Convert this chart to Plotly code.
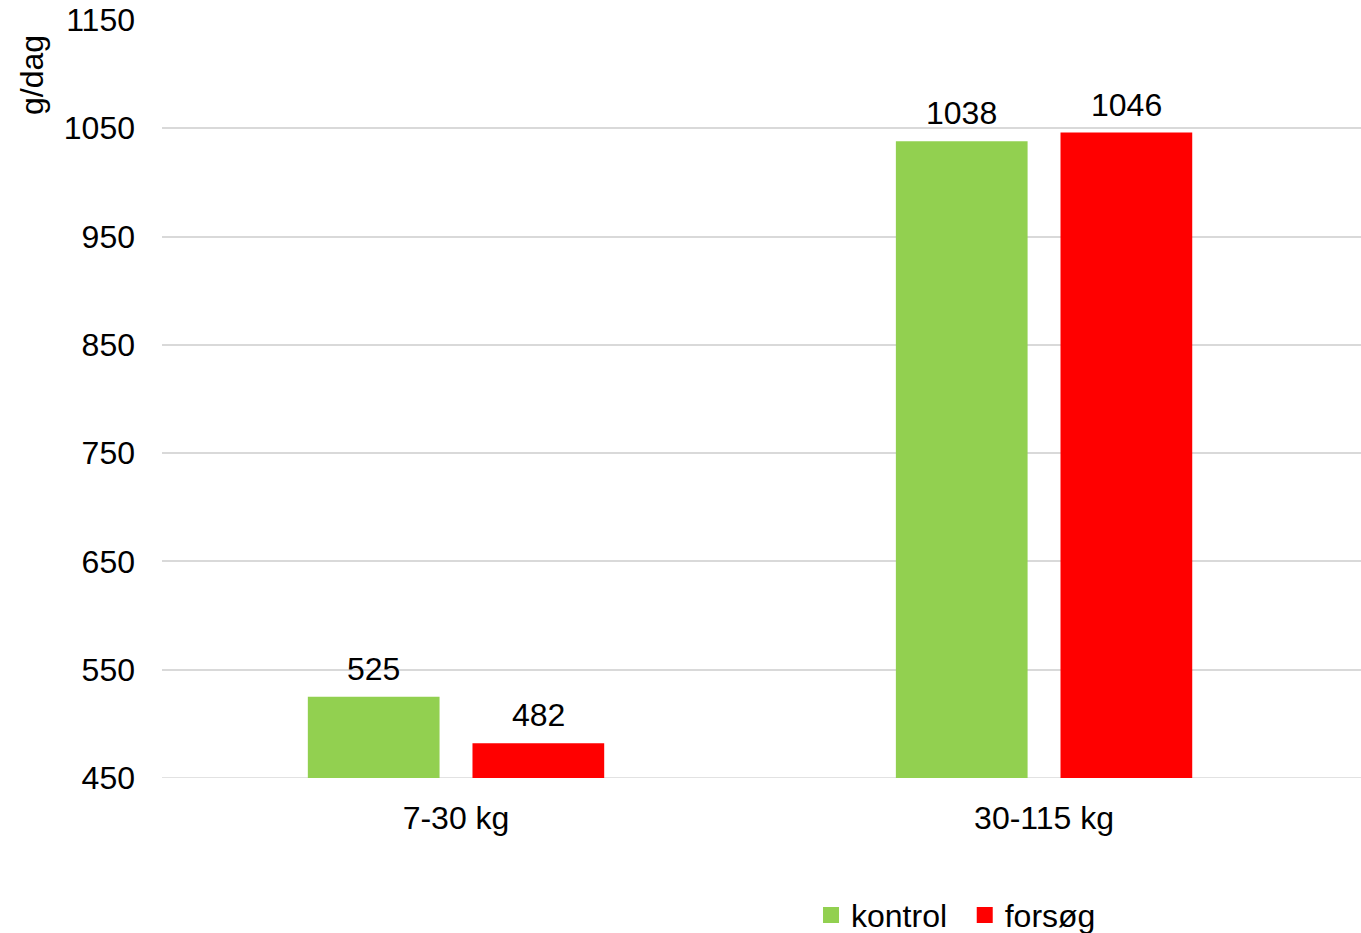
import plotly.graph_objects as go

# Daily gain (g/dag) per weight interval
categories = ["7-30 kg", "30-115 kg"]
kontrol = [525, 1038]
forsoeg = [482, 1046]
series_names = ["kontrol", "forsøg"]
colors = ["#92D050", "#FF0000"]
y_ticks = [450, 550, 650, 750, 850, 950, 1050, 1150]

FONT = "Liberation Sans, Arial, sans-serif"
FS = 32
BARGAP = 0.44
BARGROUPGAP = 0.2

fig = go.Figure()
legend_ids = ["legend", "legend2"]
series = [kontrol, forsoeg]
for name, vals, col, lg in zip(series_names, series, colors, legend_ids):
    fig.add_trace(go.Bar(
        x=categories, y=vals, name=name, marker=dict(color=col, line=dict(width=0)),
        showlegend=False,
    ))
    # legend entry with a square swatch
    fig.add_trace(go.Scatter(
        x=[None], y=[None], mode="markers", name=name, legend=lg,
        marker=dict(symbol="square", size=18, color=col),
    ))

# value labels above each bar, centred on the bar's slot within its group
slot = (1 - BARGAP) / len(series)
annotations = []
for s_idx, vals in enumerate(series):
    offset = -(1 - BARGAP) / 2 + slot * (s_idx + 0.5)
    for c_idx, v in enumerate(vals):
        annotations.append(dict(
            x=c_idx + offset, y=v, xref="x", yref="y", text=str(v),
            showarrow=False, yanchor="middle", yshift=28,
            font=dict(family=FONT, size=FS, color="black")))

annotations.append(dict(text="g/dag", textangle=-90, xref="paper", yref="paper",
                        x=-0.1085, xanchor="center", y=0.9274, yanchor="middle",
                        showarrow=False,
                        font=dict(family=FONT, size=FS, color="black")))

leg_common = dict(orientation="h", xanchor="left", y=-0.181, yanchor="middle",
                  font=dict(family=FONT, size=FS, color="black"), itemwidth=30,
                  bgcolor="rgba(0,0,0,0)")

fig.update_layout(
    width=1361, height=933,
    margin=dict(l=162, r=0, t=20, b=155, autoexpand=False),
    plot_bgcolor="white", paper_bgcolor="white",
    barmode="group", bargap=BARGAP, bargroupgap=BARGROUPGAP,
    font=dict(family=FONT, size=FS, color="black"),
    showlegend=True,
    legend=dict(x=0.5413, **leg_common),
    legend2=dict(x=0.6695, **leg_common),
    xaxis=dict(range=[-0.5, 1.539], showgrid=False, showline=False, ticks="",
               ticklabelstandoff=18,
               tickfont=dict(family=FONT, size=FS, color="black")),
    yaxis=dict(range=[y_ticks[0], y_ticks[-1]], tickvals=y_ticks,
               showgrid=True, gridcolor="#D9D9D9", gridwidth=1.5,
               zeroline=False, showline=False, ticks="", ticklabelstandoff=26,
               tickfont=dict(family=FONT, size=FS, color="black")),
    annotations=annotations,
    shapes=[dict(type="line", xref="paper", yref="y", x0=0, x1=1,
                 y0=y_ticks[0], y1=y_ticks[0], layer="below",
                 line=dict(color="#D9D9D9", width=1.5))],
)

fig.write_html("out.html")
